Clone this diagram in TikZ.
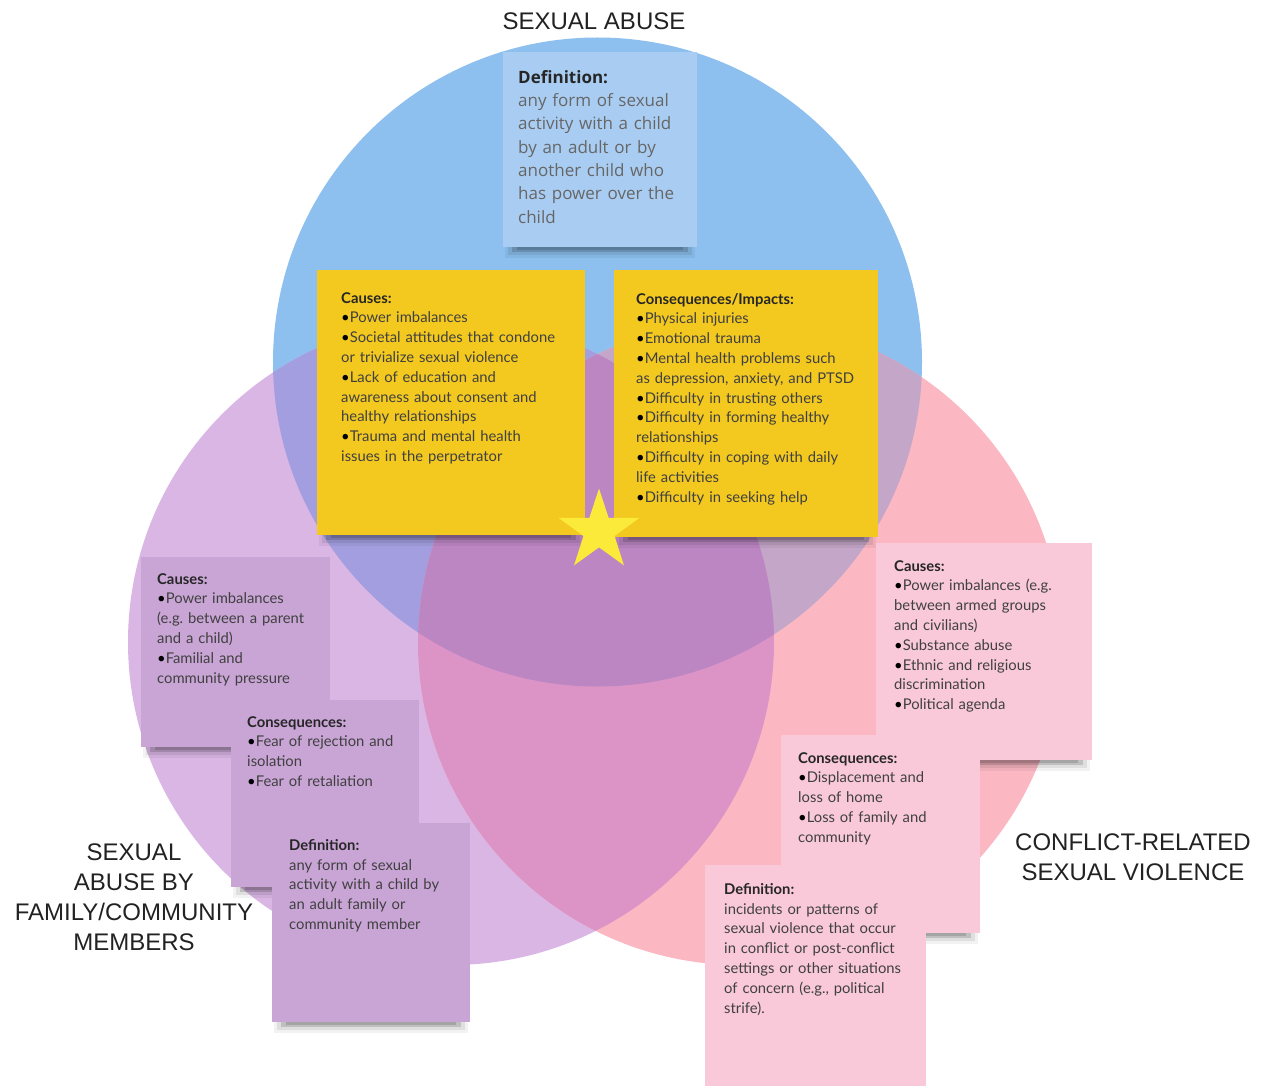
\documentclass[tikz,border=0pt]{standalone}
\usepackage{fontspec}
\setmainfont{Lato}
\newfontfamily\titlefont{Liberation Sans}
\newfontfamily\osfont{Open Sans}
\usetikzlibrary{shapes.geometric}
\frenchspacing

\definecolor{cblue}{HTML}{8DC0EF}
\definecolor{cpurple}{HTML}{DAB6E5}
\definecolor{cpink}{HTML}{FBB8C3}
\definecolor{cbp}{HTML}{A39EDF}
\definecolor{cbk}{HTML}{C4A6C8}
\definecolor{cpk}{HTML}{DC94C7}
\definecolor{cbpk}{HTML}{BC86C3}
\definecolor{nblue}{HTML}{A9CDF2}
\definecolor{nyellow}{HTML}{F3C920}
\definecolor{npurple}{HTML}{C9A5D6}
\definecolor{npink}{HTML}{F9C9DA}
\definecolor{starc}{HTML}{FBEA3A}
\definecolor{txt}{HTML}{404040}
\definecolor{txtb}{HTML}{262626}
\definecolor{ttl}{HTML}{222222}

\newcommand\bul{{\color{black}\textbullet}}
\newcommand\hd[1]{{\bfseries\color{txtb}#1}}

% #1 name, #2 fill, #3 left, #4 top, #5 width, #6 height, #7 text position, #8 text style, #9 body
\newcommand\notebox[9]{%
  \fill[black, opacity=0.05] (#3+2,#4+#6-3) rectangle (#3+#5-2,#4+#6+11);
  \fill[black, opacity=0.08] (#3+5,#4+#6-3) rectangle (#3+#5-5,#4+#6+8);
  \fill[black, opacity=0.14] (#3+9,#4+#6-3) rectangle (#3+#5-9,#4+#6+5);
  \fill[black, opacity=0.14] (#3+14,#4+#6-3) rectangle (#3+#5-14,#4+#6+3);
  \node[notestyle, fill=#2, minimum width=#5pt, minimum height=#6pt] (#1) at (#3,#4) {};
  \node[notetext, #8] (#1-t) at (#7) {#9};
}

\begin{document}
\begin{tikzpicture}[x=1pt, y=-1pt,
  notestyle/.style={draw=none, anchor=north west, inner sep=0pt, outer sep=0pt},
  notetext/.style={anchor=north west, inner sep=0pt, text width=300pt, align=left, text=txt},
  small/.style={font=\fontsize{14.8}{19.8}\selectfont},
  blues/.style={font=\osfont\fontsize{17}{23.3}\selectfont, text=black!60},
  titlestyle/.style={font=\titlefont\fontsize{24}{30}\selectfont, text=ttl, align=center, inner sep=0pt}]
\useasboundingbox (0,0) rectangle (1266,1086);
\fill[white] (0,0) rectangle (1266,1086);

% circles
\def\Bc{(597.5,362) circle[radius=324.5]}
\def\Pc{(451,642) circle[radius=323]}
\def\Kc{(740,643) circle[radius=322]}
\fill[cblue] \Bc;
\fill[cpurple] \Pc;
\fill[cpink] \Kc;
\begin{scope}\clip \Bc; \fill[cbp] \Pc; \end{scope}
\begin{scope}\clip \Bc; \fill[cbk] \Kc; \end{scope}
\begin{scope}\clip \Pc; \fill[cpk] \Kc; \end{scope}
\begin{scope}\clip \Bc; \clip \Pc; \fill[cbpk] \Kc; \end{scope}

% titles
\node[titlestyle] (t1) at (594,21) {SEXUAL ABUSE};
\node[titlestyle] (t2) at (134,897) {SEXUAL\\ABUSE BY\\FAMILY/COMMUNITY\\MEMBERS};
\node[titlestyle] (t3) at (1133,857) {CONFLICT-RELATED\\SEXUAL VIOLENCE};

% top definition
\notebox{bdef}{nblue}{503}{52}{194}{195}{518,70}{blues}{%
\hd{Definition:}\\any form of sexual\\activity with a child\\by an adult or by\\another child who\\has power over the\\child}

% yellow notes
\notebox{ycause}{nyellow}{317}{270}{268}{265}{341,292}{small}{%
\hd{Causes:}\\\bul Power imbalances\\\bul Societal attitudes that condone\\or trivialize sexual violence\\\bul Lack of education and\\awareness about consent and\\healthy relationships\\\bul Trauma and mental health\\issues in the perpetrator}

\notebox{ycons}{nyellow}{614}{270}{264}{267}{636,293}{small}{%
\hd{Consequences/Impacts:}\\\bul Physical injuries\\\bul Emotional trauma\\\bul Mental health problems such\\as depression, anxiety, and PTSD\\\bul Difficulty in trusting others\\\bul Difficulty in forming healthy\\relationships\\\bul Difficulty in coping with daily\\life activities\\\bul Difficulty in seeking help}

\node[star, star points=5, star point ratio=2.6, fill=starc, minimum size=85pt, inner sep=0pt] (st) at (599,531) {};

% purple notes
\notebox{pcause}{npurple}{141}{557}{189}{190}{157,573}{small}{%
\hd{Causes:}\\\bul Power imbalances\\(e.g. between a parent\\and a child)\\\bul Familial and\\community pressure}

\notebox{pcons}{npurple}{231}{700}{188}{187}{247,716}{small}{%
\hd{Consequences:}\\\bul Fear of rejection and\\isolation\\\bul Fear of retaliation}

\notebox{pdef}{npurple}{272}{823}{198}{199}{289,839}{small}{%
\hd{Definition:}\\any form of sexual\\activity with a child by\\an adult family or\\community member}

% pink notes
\notebox{kcause}{npink}{876}{543}{216}{217}{894,560}{small}{%
\hd{Causes:}\\\bul Power imbalances (e.g.\\between armed groups\\and civilians)\\\bul Substance abuse\\\bul Ethnic and religious\\discrimination\\\bul Political agenda}

\notebox{kcons}{npink}{781}{735}{199}{198}{798,752}{small}{%
\hd{Consequences:}\\\bul Displacement and\\loss of home\\\bul Loss of family and\\community}

\notebox{kdef}{npink}{705}{865}{221}{221}{724,883}{small}{%
\hd{Definition:}\\incidents or patterns of\\sexual violence that occur\\in conflict or post-conflict\\settings or other situations\\of concern (e.g., political\\strife).}
\end{tikzpicture}
\end{document}
